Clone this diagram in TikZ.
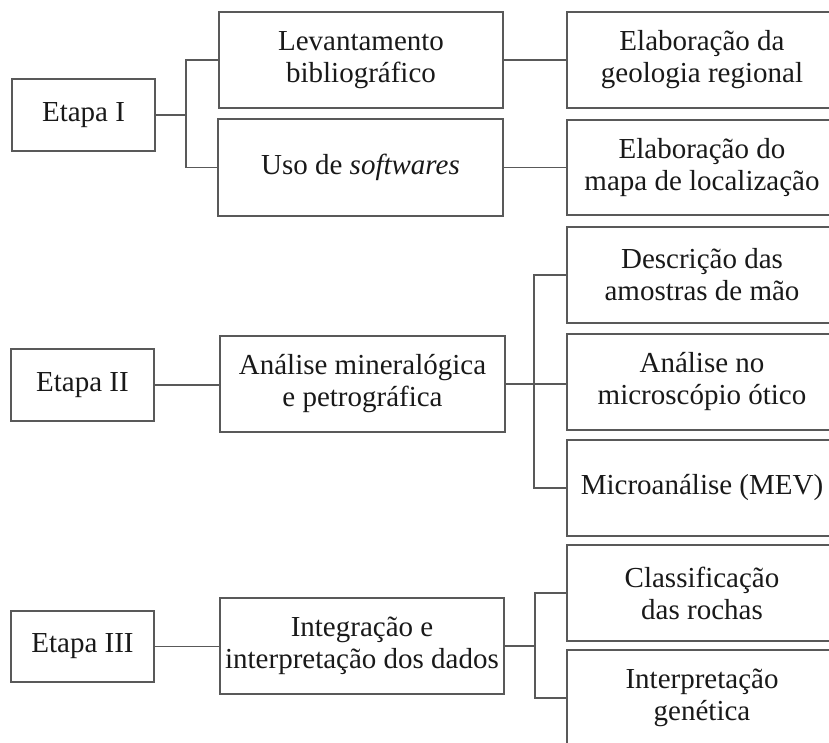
\documentclass[tikz,border=0pt]{standalone}
\usepackage{fontspec}
\setmainfont{Liberation Serif}
\begin{document}
\begin{tikzpicture}[x=1pt,y=-1pt,
  bx/.style={draw=black!65, line width=1.3pt, align=center, inner sep=0pt,
    text=black!90, font=\fontsize{29}{32}\selectfont},
  ln/.style={draw=black!65, line width=1.3pt}]
\path[use as bounding box, clip] (0,0) rectangle (829,743);
% Etapa I
\node[bx, minimum width=143pt, minimum height=72pt] (e1) at (83.5,115) {Etapa I};
\node[bx, minimum width=284pt, minimum height=96pt] (lev) at (361,60) {Levantamento\\bibliográfico};
\node[bx, minimum width=285pt, minimum height=97pt] (uso) at (360.5,167.5) {Uso de \textit{softwares}};
\node[bx, minimum width=270pt, minimum height=96pt] (el1) at (702,60) {Elaboração da\\geologia regional};
\node[bx, minimum width=270pt, minimum height=95pt] (el2) at (702,167.5) {Elaboração do\\mapa de localização};
% Etapa II
\node[bx, minimum width=143pt, minimum height=72pt] (e2) at (82.5,385) {Etapa II};
\node[bx, minimum width=285pt, minimum height=96pt] (anmin) at (362.5,384) {Análise mineralógica\\e petrográfica};
\node[bx, minimum width=270pt, minimum height=96pt] (desc) at (702,275) {Descrição das\\amostras de mão};
\node[bx, minimum width=270pt, minimum height=96pt] (anno) at (702,382) {Análise no\\microscópio ótico};
\node[bx, minimum width=270pt, minimum height=96pt] (micro) at (702,488) {Microanálise (MEV)};
% Etapa III
\node[bx, minimum width=143pt, minimum height=71pt] (e3) at (82.5,646.5) {Etapa III};
\node[bx, minimum width=284pt, minimum height=96pt] (integ) at (362,646) {Integração e\\interpretação dos dados};
\node[bx, minimum width=270pt, minimum height=96pt] (cls) at (702,593) {Classificação\\das rochas};
\node[bx, minimum width=270pt, minimum height=96pt] (interp) at (702,698) {Interpretação\\genética};
% junctions
\coordinate (j1) at (186,114);
\coordinate (j2) at (534,384);
\coordinate (j3) at (535,646);
% connectors
\draw[ln] (e1.east) -- (e1.east -| j1);
\draw[ln] (lev.west) -- (lev.west -| j1) -- (uso.west -| j1) -- (uso.west);
\draw[ln] (lev.east) -- (el1.west);
\draw[ln] (uso.east) -- (uso.east -| el2.west);
\draw[ln] (e2.east) -- (e2.east -| anmin.west);
\draw[ln] (anmin.east) -- (anmin.east -| anno.west);
\draw[ln] (desc.west) -- (desc.west -| j2) -- (micro.west -| j2) -- (micro.west);
\draw[ln] (e3.east) -- (e3.east -| integ.west);
\draw[ln] (integ.east) -- (integ.east -| j3);
\draw[ln] (cls.west) -- (cls.west -| j3) -- (interp.west -| j3) -- (interp.west);
\end{tikzpicture}
\end{document}
